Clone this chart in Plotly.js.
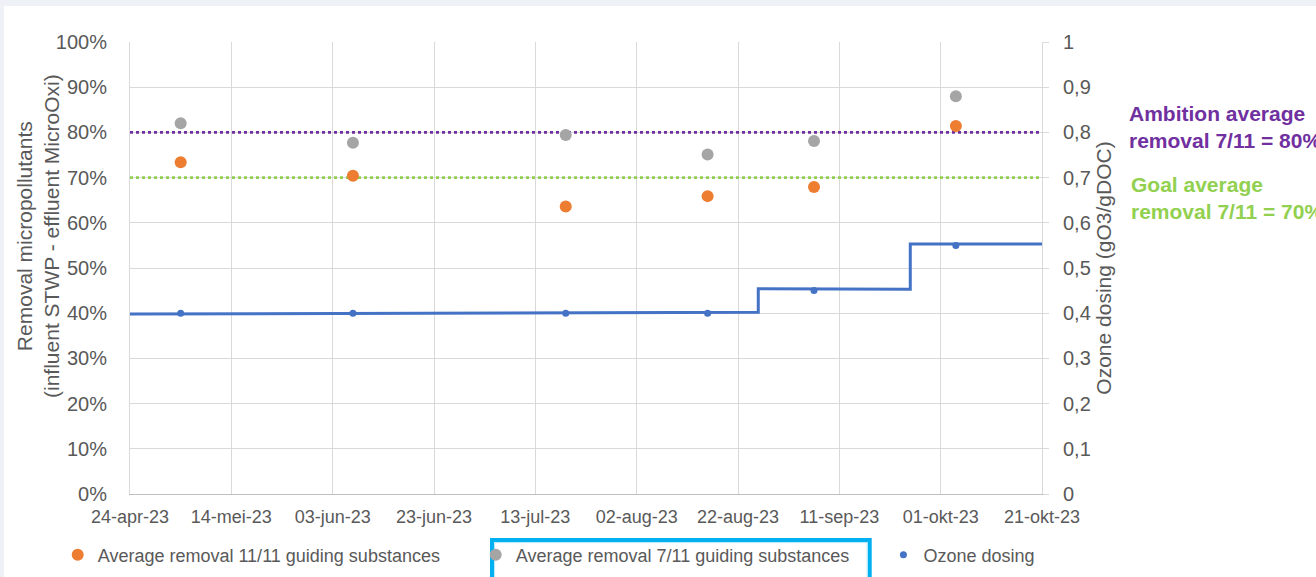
<!DOCTYPE html>
<html>
<head>
<meta charset="utf-8">
<script src="https://cdn.plot.ly/plotly-3.0.1.min.js"></script>
<style>
  html, body { margin: 0; padding: 0; background: #EEF2F6; }
  #chart { width: 1316px; height: 577px; }
</style>
</head>
<body>
<div id="chart"></div>
<script>
// ---- data ----
const sampleDates = ['2023-05-04', '2023-06-07', '2023-07-19', '2023-08-16', '2023-09-06', '2023-10-04'];
const removal11of11 = [0.734, 0.704, 0.636, 0.659, 0.679, 0.814];
const removal7of11 = [0.820, 0.777, 0.794, 0.751, 0.781, 0.880];
const ozoneAtSamples = [0.40, 0.40, 0.40, 0.40, 0.45, 0.55];

const ozoneStepDates = ['2023-04-24', '2023-08-26', '2023-08-26', '2023-09-25', '2023-09-25', '2023-10-21'];
const ozoneStepValues = [0.398, 0.402, 0.454, 0.453, 0.553, 0.553];

const targetDates = ['2023-04-24', '2023-10-21'];
const ambitionValues = [0.80, 0.80];
const goalValues = [0.70, 0.70];

const tickDates = ['2023-04-24', '2023-05-14', '2023-06-03', '2023-06-23', '2023-07-13',
                   '2023-08-02', '2023-08-22', '2023-09-11', '2023-10-01', '2023-10-21'];
const tickLabels = ['24-apr-23', '14-mei-23', '03-jun-23', '23-jun-23', '13-jul-23',
                    '02-aug-23', '22-aug-23', '11-sep-23', '01-okt-23', '21-okt-23'];

const seriesNames = ['Average removal 11/11 guiding substances',
                     'Average removal 7/11 guiding substances',
                     'Ozone dosing'];

// ---- styling ----
const FONT = 'Liberation Sans, Arial, sans-serif';
const TXT = '#595959';
const GRID = '#D9D9D9';

const traces = [
  { x: targetDates, y: ambitionValues, type: 'scatter', mode: 'lines', showlegend: false,
    line: { color: '#7030A0', width: 2.6, dash: 'dot' }, hoverinfo: 'skip' },
  { x: targetDates, y: goalValues, type: 'scatter', mode: 'lines', showlegend: false,
    line: { color: '#92D050', width: 2.6, dash: 'dot' }, hoverinfo: 'skip' },
  { x: ozoneStepDates, y: ozoneStepValues, type: 'scatter', mode: 'lines', yaxis: 'y2',
    showlegend: false, line: { color: '#4472C4', width: 3 }, hoverinfo: 'skip' },
  { x: sampleDates, y: removal11of11, type: 'scatter', mode: 'markers', name: seriesNames[0],
    legend: 'legend', marker: { color: '#ED7D31', size: 12 } },
  { x: sampleDates, y: removal7of11, type: 'scatter', mode: 'markers', name: seriesNames[1],
    legend: 'legend2', marker: { color: '#A5A5A5', size: 12 } },
  { x: sampleDates, y: ozoneAtSamples, type: 'scatter', mode: 'markers', name: seriesNames[2],
    legend: 'legend3', yaxis: 'y2', marker: { color: '#4472C4', size: 7 } }
];

const PL = 130, PW = 912, PT = 42, PH = 452, PB = PT + PH;
const px = v => (v - PL) / PW;     // pixel x -> paper
const py = v => (PB - v) / PH;     // pixel y -> paper

const legendBase = {
  orientation: 'h', xref: 'container', yref: 'container', xanchor: 'left', yanchor: 'middle',
  y: 1 - 555 / 577, bgcolor: 'rgba(0,0,0,0)', font: { family: FONT, size: 18, color: TXT }
};

const layout = {
  width: 1316, height: 577, autosize: false,
  margin: { l: PL, r: 1316 - PL - PW, t: PT, b: 577 - PB, pad: 0 },
  paper_bgcolor: '#EEF2F6', plot_bgcolor: '#FFFFFF',
  separators: ',.',
  font: { family: FONT, color: TXT },
  showlegend: true,
  legend: Object.assign({}, legendBase, { x: 57.7 / 1316 }),
  legend2: Object.assign({}, legendBase, { x: 475.7 / 1316 }),
  legend3: Object.assign({}, legendBase, { x: 883.4 / 1316 }),
  xaxis: {
    type: 'date', range: ['2023-04-24', '2023-10-21'],
    tickmode: 'array', tickvals: tickDates, ticktext: tickLabels,
    showgrid: true, gridcolor: GRID, gridwidth: 1,
    showline: true, linecolor: '#BFBFBF', linewidth: 1,
    ticks: '', zeroline: false, ticklabelstandoff: 6,
    tickfont: { family: FONT, size: 18, color: TXT }
  },
  yaxis: {
    range: [0, 1], dtick: 0.1, tick0: 0, tickformat: '.0%',
    showgrid: true, gridcolor: GRID, gridwidth: 1, zeroline: false,
    showline: true, linecolor: GRID, linewidth: 1,
    ticks: '', ticklabelstandoff: 18,
    tickfont: { family: FONT, size: 20, color: TXT }
  },
  yaxis2: {
    overlaying: 'y', side: 'right', range: [0, 1], dtick: 0.1, tick0: 0, tickformat: '.1~f',
    showgrid: false, zeroline: false, showline: true, linecolor: GRID, linewidth: 1,
    ticks: 'outside', ticklen: 6, tickcolor: GRID, ticklabelstandoff: 10,
    tickfont: { family: FONT, size: 20, color: TXT },
    title: { text: 'Ozone dosing (gO3/gDOC)', font: { family: FONT, size: 21, color: TXT }, standoff: 6 }
  },
  annotations: [
    { xref: 'paper', yref: 'paper', x: px(38), y: py(236), xanchor: 'center', yanchor: 'middle',
      textangle: -90, showarrow: false,
      text: 'Removal micropollutants<br>(influent STWP - effluent MicroOxi)',
      font: { family: FONT, size: 21, color: TXT } },
    { xref: 'paper', yref: 'paper', x: px(1127), y: py(127), xanchor: 'left', yanchor: 'middle',
      align: 'left', showarrow: false,
      text: '<b>Ambition average<br>removal 7/11 = 80%</b>',
      font: { family: FONT, size: 21, color: '#7030A0' } },
    { xref: 'paper', yref: 'paper', x: px(1129), y: py(198), xanchor: 'left', yanchor: 'middle',
      align: 'left', showarrow: false,
      text: '<b>Goal average<br>removal 7/11 = 70%</b>',
      font: { family: FONT, size: 21, color: '#92D050' } }
  ],
  shapes: [
    { type: 'rect', xref: 'paper', yref: 'paper', layer: 'below',
      x0: px(4), x1: 1.6, y0: py(6), y1: -0.6, fillcolor: '#FFFFFF', line: { width: 0 } },
    { type: 'rect', xref: 'paper', yref: 'paper',
      x0: px(492), x1: px(869.7), y0: py(540), y1: py(620),
      fillcolor: 'rgba(0,0,0,0)', line: { color: '#00B0F0', width: 4 } },
    { type: 'rect', xref: 'paper', yref: 'paper',
      x0: px(494.6), x1: px(867.2), y0: py(542.6), y1: py(620),
      fillcolor: 'rgba(0,0,0,0)', line: { color: '#B3E8FA', width: 1 } }
  ]
};

Plotly.newPlot('chart', traces, layout, { staticPlot: true, displayModeBar: false });
</script>
</body>
</html>
